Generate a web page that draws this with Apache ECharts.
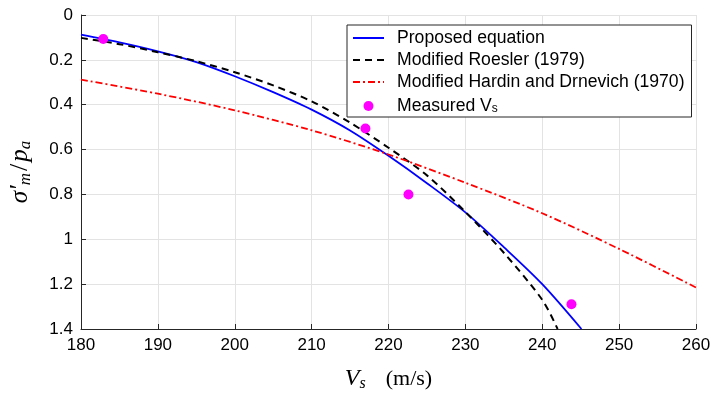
<!DOCTYPE html>
<html>
<head>
<meta charset="utf-8">
<script src="https://cdn.jsdelivr.net/npm/echarts@6/dist/echarts.min.js"></script>
<style>
  html, body { margin: 0; padding: 0; background: #fff; }
  #chart { width: 714px; height: 395px; }
</style>
</head>
<body>
<div id="chart"></div>
<script>
// values
const proposedVs = [180, 185, 190, 195, 200, 205, 210, 215, 220, 225, 230, 235, 240, 245.1]
const proposedP = [0.088, 0.122, 0.162, 0.21, 0.273, 0.344, 0.422, 0.515, 0.628, 0.75, 0.88, 1.035, 1.2, 1.4]

const roeslerVs = [180, 185, 190, 195, 200, 205, 210, 215, 220, 225, 230, 235, 240, 242]
const roeslerP = [0.102, 0.13, 0.166, 0.206, 0.255, 0.314, 0.385, 0.48, 0.592, 0.715, 0.878, 1.06, 1.27, 1.4]

const hardinVs = [180, 190, 200, 210, 220, 230, 240, 250, 260]
const hardinP = [0.288, 0.351, 0.425, 0.514, 0.622, 0.748, 0.884, 1.043, 1.215]

const measuredVs = [182.9, 217, 222.6, 243.8]
const measuredP = [0.107, 0.506, 0.8, 1.29]

const seriesNames = ['Proposed equation', 'Modified Roesler (1979)', 'Modified Hardin and Drnevich (1970)', 'Measured Vs']

function pairs(xs, ys) {
  return xs.map((x, i) => [x, ys[i]])
}

const chart = echarts.init(document.getElementById('chart'), null, { renderer: 'canvas' })

const axisColor = '#262626'
const gridColor = '#e3e3e3'
const font = 'Liberation Sans, Arial, sans-serif'
const serif = 'Liberation Serif, DejaVu Serif, serif'

// line entries in the legend get no marker
const legendData = seriesNames.map((name, i) => i < 3
  ? { name, itemStyle: { opacity: 0, color: 'transparent', borderWidth: 0 } }
  : { name })

chart.setOption({
  animation: false,
  backgroundColor: '#fff',
  grid: { left: 81, right: 18, top: 15, bottom: 66, outerBoundsMode: 'none' },
  legend: {
    orient: 'vertical',
    left: 347,
    top: 25,
    padding: [4, 7, 2, 5],
    itemWidth: 31,
    itemHeight: 10,
    itemGap: 4,
    borderColor: axisColor,
    borderWidth: 1,
    backgroundColor: '#fff',
    data: legendData,
    formatter: name => name === 'Measured Vs' ? 'Measured V{sub|s}' : name,
    textStyle: {
      fontFamily: font,
      fontSize: 17.6,
      lineHeight: 18,
      color: '#000',
      padding: [0, 0, 0, 8],
      rich: {
        sub: { fontFamily: font, fontSize: 12, lineHeight: 18, verticalAlign: 'bottom', padding: [8, 0, 0, 0] }
      }
    }
  },
  xAxis: {
    type: 'value',
    min: 180,
    max: 260,
    interval: 10,
    name: '{it|V}{sub|s}{rm|(m/s)}',
    nameLocation: 'middle',
    nameGap: 37,
    nameTextStyle: {
      rich: {
        it: { fontFamily: serif, fontStyle: 'italic', fontSize: 24, color: '#000' },
        sub: { fontFamily: serif, fontStyle: 'italic', fontSize: 16, color: '#000', padding: [10, 0, 0, 0] },
        rm: { fontFamily: serif, fontSize: 22, color: '#000', padding: [0, 0, 0, 20] }
      }
    },
    axisLine: { onZero: false, lineStyle: { color: axisColor, width: 1 } },
    axisTick: { inside: true, length: 5, lineStyle: { color: axisColor } },
    axisLabel: { color: '#000', fontFamily: font, fontSize: 17, margin: 8 },
    splitLine: { show: true, lineStyle: { color: gridColor, width: 1 } }
  },
  yAxis: {
    type: 'value',
    inverse: true,
    min: 0,
    max: 1.4,
    interval: 0.2,
    name: '{it|σ′}{sub|m}{rm|/}{it|p}{sub|a}',
    nameLocation: 'middle',
    nameGap: 47,
    nameRotate: 90,
    nameTextStyle: {
      rich: {
        it: { fontFamily: serif, fontStyle: 'italic', fontSize: 25, color: '#000' },
        sub: { fontFamily: serif, fontStyle: 'italic', fontSize: 17, color: '#000', padding: [10, 0, 0, 0] },
        rm: { fontFamily: serif, fontSize: 26, color: '#000', padding: [0, 2, 0, 2] }
      }
    },
    axisLine: { show: true, onZero: false, lineStyle: { color: axisColor, width: 1 } },
    axisTick: { show: true, inside: true, length: 5, lineStyle: { color: axisColor } },
    axisLabel: { color: '#000', fontFamily: font, fontSize: 17, margin: 8 },
    splitLine: { show: true, lineStyle: { color: gridColor, width: 1 } }
  },
  series: [
    {
      name: seriesNames[0],
      type: 'line',
      data: pairs(proposedVs, proposedP),
      smooth: 0.3,
      symbol: 'none',
      z: 3,
      itemStyle: { color: '#0000ff' },
      lineStyle: { color: '#0000ff', width: 1.8 }
    },
    {
      name: seriesNames[1],
      type: 'line',
      data: pairs(roeslerVs, roeslerP),
      smooth: 0.3,
      symbol: 'none',
      z: 3,
      itemStyle: { color: '#000' },
      lineStyle: { color: '#000', width: 2, type: [7, 5] }
    },
    {
      name: seriesNames[2],
      type: 'line',
      data: pairs(hardinVs, hardinP),
      smooth: 0.3,
      symbol: 'none',
      z: 3,
      itemStyle: { color: '#ff0000' },
      lineStyle: { color: '#ff0000', width: 1.8, type: [7, 3, 2, 3] }
    },
    {
      name: seriesNames[3],
      type: 'scatter',
      data: pairs(measuredVs, measuredP),
      symbol: 'circle',
      symbolSize: 10,
      z: 4,
      itemStyle: { color: '#ff00ff', opacity: 1 }
    }
  ]
})
</script>
</body>
</html>
